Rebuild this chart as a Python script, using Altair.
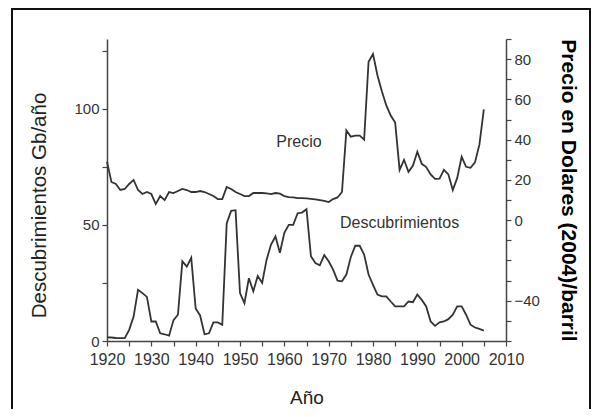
import altair as alt
import pandas as pd

# ---- data ----
years = list(range(1920, 2006))

precio = [
    29, 19, 18, 15, 15.5, 18, 20, 15, 13, 14,          # 1920-1929
    13, 8, 12, 10, 14, 13.5, 14.5, 15.5, 15, 14,        # 1930-1939
    14, 14.5, 14, 13, 12, 10.5, 10.5, 16.5, 15.5, 14,   # 1940-1949
    13, 12, 12, 13.5, 13.5, 13.5, 13.3, 13, 13.5, 13.2, # 1950-1959
    12, 11.5, 11.3, 11, 11, 10.8, 10.6, 10.3, 10, 9.6,  # 1960-1969
    9, 10.5, 11.3, 14, 44.6, 41.5, 42, 42, 40, 78.7,    # 1970-1979
    82.5, 72, 64, 57, 52, 48.5, 25, 30, 24, 27,         # 1980-1989
    34, 28, 26.4, 22.7, 20.5, 20.6, 25, 22.7, 15, 21,   # 1990-1999
    31.5, 26.5, 26, 28.7, 37.5, 55,                     # 2000-2005
]

descubrimientos = [
    1.6, 1.5, 1.3, 1.2, 1.2, 4.8, 10.5, 22, 20.6, 19,         # 1920-1929
    8.4, 8.4, 3.3, 2.9, 2.3, 9, 11.3, 34.3, 32, 35.8,         # 1930-1939
    14, 11, 2.9, 3.3, 8, 8, 7, 50.6, 56, 56.3,                # 1940-1949
    20.6, 16.3, 27, 21.4, 28, 25, 35, 41.5, 45, 38,           # 1950-1959
    46.6, 50, 50, 55, 55.3, 56.7, 36.5, 33.6, 32.6, 37,       # 1960-1969
    34.3, 30.7, 26, 25.7, 28.6, 36.2, 41, 41, 37.2, 28.6,     # 1970-1979
    24.2, 20, 19.2, 19.2, 17, 14.9, 14.9, 14.9, 17, 16.7,     # 1980-1989
    20, 17.7, 14.9, 8.4, 6.5, 8, 8.4, 9.4, 11.3, 14.9,        # 1990-1999
    14.9, 11.3, 7, 5.8, 5.2, 4.5,                             # 2000-2005
]

label_text = ["Precio", "Descubrimientos"]
label_year = [1963.3, 1986.0]
label_value = [85.7, 51.0]          # on the Descubrimientos (left) scale

x_ticks = list(range(1920, 2011, 5))
left_ticks = [0, 25, 50, 75, 100, 125]
right_ticks = list(range(-60, 91, 10))
right_labels = [80, 60, 40, 20, 0, -40]

df = pd.DataFrame({"Año": years, "Precio": precio, "Descubrimientos": descubrimientos})
lab = pd.DataFrame({"texto": label_text, "Año": label_year, "Descubrimientos": label_value})

FONT = "Liberation Sans"
W, H = 399, 302
LINE = "#333333"
AX = "#444444"

x_enc = alt.X(
    "Año:Q",
    scale=alt.Scale(domain=[1920, 2010], nice=False, zero=False),
    axis=alt.Axis(
        title="Año", values=x_ticks, format="d",
        labelExpr="datum.value % 10 == 0 ? datum.label : ''",
        labelFontSize=16, labelPadding=5,
        titleFontSize=19, titleFontWeight="normal", titleColor="#222222",
        titlePadding=21,
    ),
)

y_left = alt.Y(
    "Descubrimientos:Q",
    scale=alt.Scale(domain=[0, 130], nice=False),
    axis=alt.Axis(
        title="Descubrimientos Gb/año", orient="left", values=left_ticks,
        labelExpr="datum.value % 50 == 0 ? datum.label : ''",
        titleFontSize=20.5, titleFontWeight="normal", titleColor="#222222",
        titlePadding=24, titleY=166,
    ),
)

label_list = "[" + ",".join(str(v) for v in right_labels) + "]"
y_right = alt.Y(
    "Precio:Q",
    scale=alt.Scale(domain=[-60, 90], nice=False, zero=False),
    axis=alt.Axis(
        title="Precio en Dolares (2004)/barril", orient="right", values=right_ticks,
        labelExpr="indexof(" + label_list + ", datum.value) >= 0 ? datum.label : ''",
        titleFontSize=21, titleFontWeight="bold", titleColor="#000000",
        titlePadding=18,
    ),
)

disc_line = alt.Chart(df).mark_line(color=LINE, strokeWidth=1.8).encode(x=x_enc, y=y_left)
disc_text = alt.Chart(lab).mark_text(
    font=FONT, fontSize=16, color="#333333", align="center", baseline="middle"
).encode(x=x_enc, y=y_left, text="texto:N")

price_line = alt.Chart(df).mark_line(color=LINE, strokeWidth=1.8).encode(x=x_enc, y=y_right)

# decorative outer frame drawn as thin filled bars (left, right, top)
frame_df = pd.DataFrame({"f": [0]})
frame_left = alt.Chart(frame_df).mark_rect(color="#111111").encode(
    x=alt.value(-96), x2=alt.value(-94), y=alt.value(-31), y2=alt.value(420))
frame_right = alt.Chart(frame_df).mark_rect(color="#111111").encode(
    x=alt.value(482), x2=alt.value(484), y=alt.value(-31), y2=alt.value(420))
frame_top = alt.Chart(frame_df).mark_rect(color="#111111").encode(
    x=alt.value(-96), x2=alt.value(484), y=alt.value(-31), y2=alt.value(-29))

left_part = alt.layer(disc_line, disc_text)

chart = (
    alt.layer(left_part, price_line, frame_left, frame_right, frame_top)
    .resolve_scale(y="independent")
    .properties(
        width=W, height=H,
        autosize=alt.AutoSizeParams(type="none"),
        padding={"left": 99, "top": 31, "right": 86, "bottom": 68},
        background="white",
    )
    .configure_view(stroke=None)
    .configure_axis(
        grid=False, domainColor=AX, domainWidth=1.5, tickColor=AX, tickWidth=1.2,
        tickSize=5, labelFont=FONT, titleFont=FONT, labelFontSize=15,
        labelColor="#333333", labelPadding=3, labelFlush=False, labelOverlap=False,
    )
)

chart.save("out.html", embed_options={"renderer": "svg", "actions": False})
